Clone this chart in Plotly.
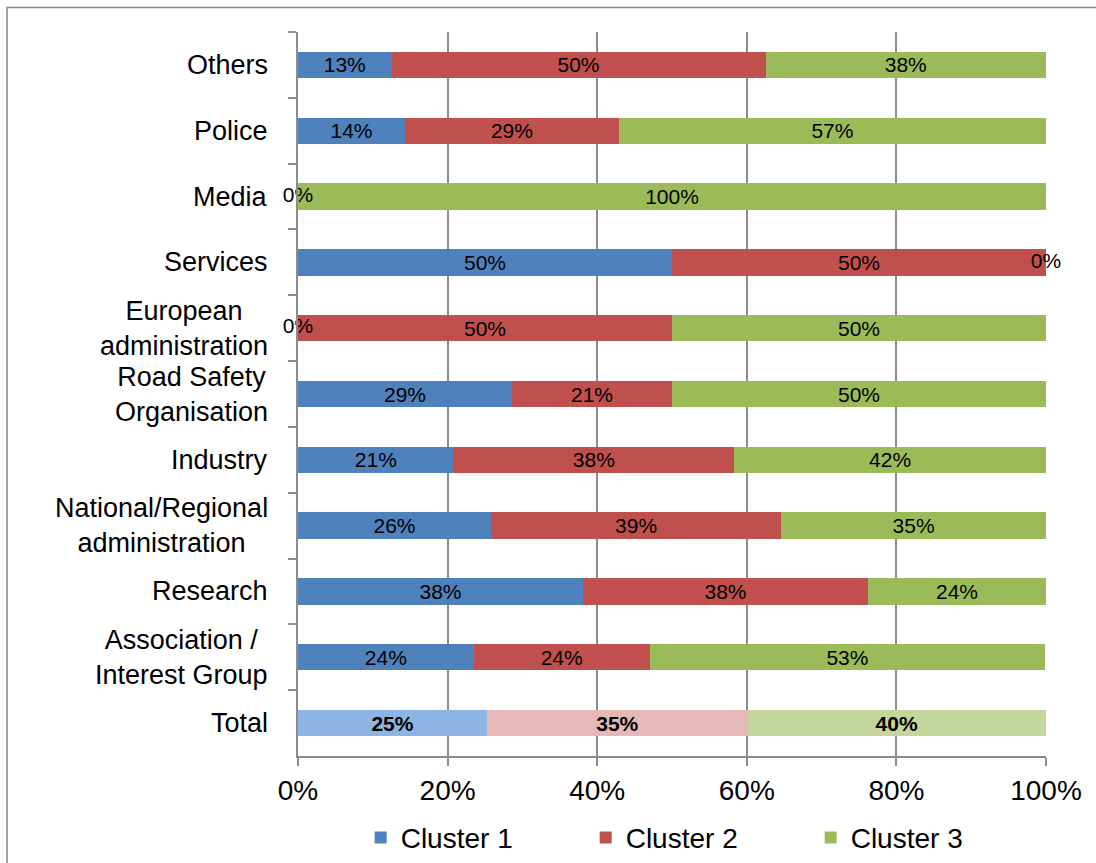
import math
import plotly.graph_objects as go

# Categories listed top to bottom
categories = [
    "Others",
    "Police",
    "Media",
    "Services",
    "European<br>administration",
    "Road Safety<br>Organisation",
    "Industry",
    "National/Regional<br>administration",
    "Research",
    "Association /<br>Interest Group",
    "Total",
]

# Share of respondents per cluster (%)
cluster1 = [12.5, 14.3, 0, 50, 0, 28.6, 20.8, 25.8, 38.1, 23.5, 25.3]
cluster2 = [50, 28.6, 0, 50, 50, 21.4, 37.5, 38.8, 38.1, 23.5, 34.8]
cluster3 = [37.5, 57.1, 100, 0, 50, 50, 41.7, 35.4, 23.8, 52.9, 39.9]

x_tick_values = [0, 20, 40, 60, 80, 100]
x_tick_labels = ["0%", "20%", "40%", "60%", "80%", "100%"]

series_names = ["Cluster 1", "Cluster 2", "Cluster 3"]
series_values = [cluster1, cluster2, cluster3]
base_colors = ["#4F81BD", "#C0504D", "#9BBB59"]
total_colors = ["#8EB4E3", "#E6B9B8", "#C3D69B"]

FONT = "Arial, 'Liberation Sans', sans-serif"
AXIS_GREY = "#8C8C8C"


def pct_label(v):
    return f"{int(math.floor(v + 0.5))}%"


fig = go.Figure()

for name, vals, col, tcol in zip(series_names, series_values, base_colors, total_colors):
    colors = [tcol if c == "Total" else col for c in categories]
    texts = []
    for c, v in zip(categories, vals):
        if v == 0:
            texts.append("")
        elif c == "Total":
            texts.append(f"<b>{pct_label(v)}</b>")
        else:
            texts.append(pct_label(v))
    fig.add_trace(go.Bar(
        name=name,
        y=categories,
        x=vals,
        orientation="h",
        marker=dict(color=colors, line=dict(width=0)),
        text=texts,
        texttemplate="%{text}",
        textposition="inside",
        insidetextanchor="middle",
        textangle=0,
        constraintext="none",
        textfont=dict(family=FONT, size=21, color="black"),
        hoverinfo="skip",
    ))

# "0%" labels for empty segments, placed at the point where the segment sits
zero_x, zero_y = [], []
for i, c in enumerate(categories):
    start = 0.0
    seen = set()
    for vals in series_values:
        v = vals[i]
        if v == 0:
            key = round(start, 3)
            if key not in seen:
                seen.add(key)
                zero_x.append(start)
                zero_y.append(c)
        start += v
fig.add_trace(go.Scatter(
    x=zero_x,
    y=zero_y,
    mode="text",
    text=["0%"] * len(zero_x),
    textposition="middle center",
    textfont=dict(family=FONT, size=21, color="black"),
    showlegend=False,
    hoverinfo="skip",
    cliponaxis=False,
))

# Category labels, centred line by line and right-aligned against the axis
for c in categories:
    fig.add_annotation(
        x=0, xref="paper", xshift=-28,
        y=c, yref="y",
        text=c,
        showarrow=False,
        xanchor="right",
        yanchor="middle",
        align="center",
        font=dict(family=FONT, size=27, color="black"),
    )

# Outer chart frame
fig.add_shape(
    type="rect", xref="paper", yref="paper",
    x0=-0.389, x1=1.2, y0=-0.3, y1=1.034,
    line=dict(color="#868686", width=1.5),
    fillcolor="rgba(0,0,0,0)",
    layer="below",
)

fig.update_layout(
    width=1096,
    height=863,
    margin=dict(l=298, r=50, t=32, b=107, autoexpand=False),
    barmode="stack",
    bargap=0.6,
    plot_bgcolor="white",
    paper_bgcolor="white",
    font=dict(family=FONT, size=27, color="black"),
    legend=dict(
        orientation="h",
        x=0.535, xanchor="center",
        y=-0.113, yanchor="middle",
        font=dict(family=FONT, size=28, color="black"),
        entrywidth=180,
        traceorder="normal",
    ),
    xaxis=dict(
        range=[0, 100],
        tickmode="array",
        tickvals=x_tick_values,
        ticktext=x_tick_labels,
        showgrid=True,
        gridcolor=AXIS_GREY,
        gridwidth=2,
        zeroline=False,
        showline=True,
        linecolor=AXIS_GREY,
        linewidth=2,
        ticks="outside",
        ticklen=8,
        tickwidth=2,
        tickcolor=AXIS_GREY,
        tickfont=dict(family=FONT, size=28, color="black"),
        fixedrange=True,
    ),
    yaxis=dict(
        type="category",
        categoryorder="array",
        categoryarray=categories,
        range=[len(categories) - 0.5, -0.5],
        showticklabels=False,
        showgrid=False,
        zeroline=False,
        showline=True,
        linecolor=AXIS_GREY,
        linewidth=2,
        ticks="outside",
        tickson="boundaries",
        ticklen=8,
        tickwidth=2,
        tickcolor=AXIS_GREY,
        fixedrange=True,
    ),
)

fig.write_html("out.html")
